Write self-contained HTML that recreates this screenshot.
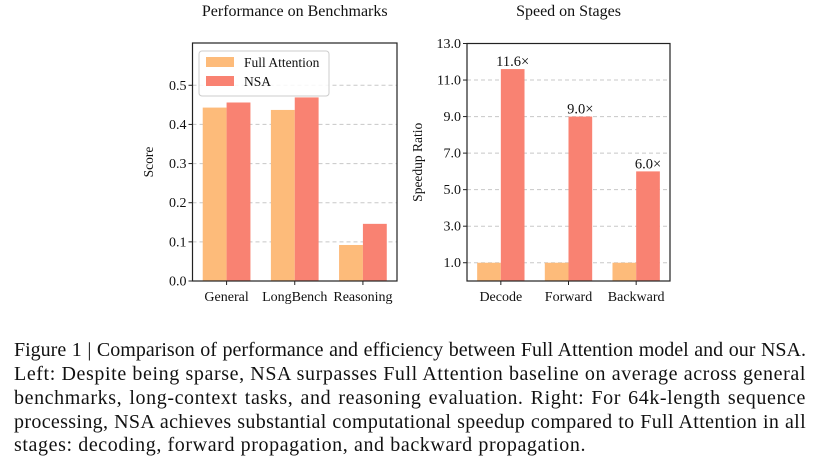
<!DOCTYPE html>
<html><head><meta charset="utf-8"><style>
html,body{margin:0;padding:0;background:#fff;width:818px;height:458px;overflow:hidden}
svg text{font-family:"Liberation Serif",serif;fill:#111}
.cap{position:absolute;left:14px;width:792px;font-family:"Liberation Serif",serif;font-size:20px;letter-spacing:0.6px;color:#111;text-align:justify;text-align-last:justify;white-space:nowrap;line-height:20px}
</style></head><body>
<svg id="chart" width="818" height="330" style="position:absolute;left:0;top:0"></svg>
<div class="cap" style="top:340px;letter-spacing:0px">Figure 1 | Comparison of performance and efficiency between Full Attention model and our NSA.</div>
<div class="cap" style="top:364px">Left: Despite being sparse, NSA surpasses Full Attention baseline on average across general</div>
<div class="cap" style="top:388px">benchmarks, long-context tasks, and reasoning evaluation. Right: For 64k-length sequence</div>
<div class="cap" style="top:412px;letter-spacing:0.35px">processing, NSA achieves substantial computational speedup compared to Full Attention in all</div>
<div class="cap" style="top:435px;width:auto;text-align-last:auto">stages: decoding, forward propagation, and backward propagation.</div>
<script>
const benchCats=["General","LongBench","Reasoning"];
const benchFull=[0.443,0.437,0.092];
const benchNSA=[0.456,0.469,0.146];
const benchTicks=[0.0,0.1,0.2,0.3,0.4,0.5];
const speedCats=["Decode","Forward","Backward"];
const speedFull=[1.0,1.0,1.0];
const speedNSA=[11.6,9.0,6.0];
const speedTicks=[1.0,3.0,5.0,7.0,9.0,11.0,13.0];
const speedLabels=["11.6\u00d7","9.0\u00d7","6.0\u00d7"];
const svg=document.getElementById('chart');
const NS='http://www.w3.org/2000/svg';
function mk(tag,attrs,parent){const e=document.createElementNS(NS,tag);for(const k in attrs)e.setAttribute(k,attrs[k]);(parent||svg).appendChild(e);return e;}
const ORANGE='#fdbb7a',RED='#f98272';
function panel(o){
  const g=mk('g',{});
  
  
  const x=i=>o.x0+(i+0.5)*(o.x1-o.x0)/3;
  const y=v=>o.y1-(v-o.ymin)/(o.ymax-o.ymin)*(o.y1-o.y0);
  const bw=(o.x1-o.x0)/3*0.35;
  o.ticks.forEach((t,i)=>{
    if(y(t)>o.y0+1&&y(t)<o.y1-1){const l=mk('line',{x1:o.x0,x2:o.x1,y1:y(t),y2:y(t),stroke:'#c8c8c8','stroke-dasharray':'4,3','stroke-width':1},g);
    }
  });
  o.cats.forEach((c,i)=>{
    const r1=mk('rect',{x:x(i)-bw,y:y(o.a[i]),width:bw,height:o.y1-y(o.a[i]),fill:ORANGE},g);
    
    
    const r2=mk('rect',{x:x(i),y:y(o.b[i]),width:bw,height:o.y1-y(o.b[i]),fill:RED},g);
    
    
    mk('line',{x1:x(i),x2:x(i),y1:o.y1,y2:o.y1+4,stroke:'#222'},g);
    const t=mk('text',{x:x(i),y:o.y1+20,'text-anchor':'middle','font-size':14},g);t.textContent=c;
    
    if(o.labels){const lt=mk('text',{x:x(i)+bw/2,y:y(o.b[i])-3,'text-anchor':'middle','font-size':14.5},g);lt.textContent=o.labels[i];
      }
  });
  o.ticks.forEach(t=>{
    mk('line',{x1:o.x0-4,x2:o.x0,y1:y(t),y2:y(t),stroke:'#222'},g);
    const tt=mk('text',{x:o.x0-6,y:y(t)+4.5,'text-anchor':'end','font-size':14},g);tt.textContent=t.toFixed(1);
    
  });
  const fr=mk('rect',{x:o.x0,y:o.y0,width:o.x1-o.x0,height:o.y1-o.y0,fill:'none',stroke:'#222','stroke-width':1.2},g);
  
  const tl=mk('text',{x:(o.x0+o.x1)/2,y:16,'text-anchor':'middle','font-size':16},g);tl.textContent=o.title;
  
  const yl=mk('text',{x:0,y:0,'text-anchor':'middle','font-size':13.5,transform:`translate(${o.ylx},${(o.y0+o.y1)/2}) rotate(-90)`},g);yl.textContent=o.ylabel;
  
}
panel({name:'benchmark-chart',x0:192.5,x1:397,y0:43,y1:281,ymin:0,ymax:0.608,ticks:benchTicks,cats:benchCats,a:benchFull,b:benchNSA,title:'Performance on Benchmarks',ylabel:'Score',ylx:153});
panel({name:'speed-chart',x0:467,x1:670,y0:43.5,y1:281,ymin:0,ymax:13,ticks:speedTicks,cats:speedCats,a:speedFull,b:speedNSA,title:'Speed on Stages',ylabel:'Speedup Ratio',ylx:422,labels:speedLabels});
const lg=mk('g',{});


mk('rect',{x:199,y:51,width:130,height:45,rx:3,fill:'#fff','fill-opacity':0.85,stroke:'#ccc'},lg);
mk('rect',{x:206,y:57,width:28,height:10,fill:ORANGE},lg);
mk('rect',{x:206,y:76,width:28,height:10,fill:RED},lg);
const l1=mk('text',{x:244,y:67,'font-size':13.5},lg);l1.textContent='Full Attention';

const l2=mk('text',{x:244,y:86,'font-size':13.5},lg);l2.textContent='NSA';

</script>
</body></html>
